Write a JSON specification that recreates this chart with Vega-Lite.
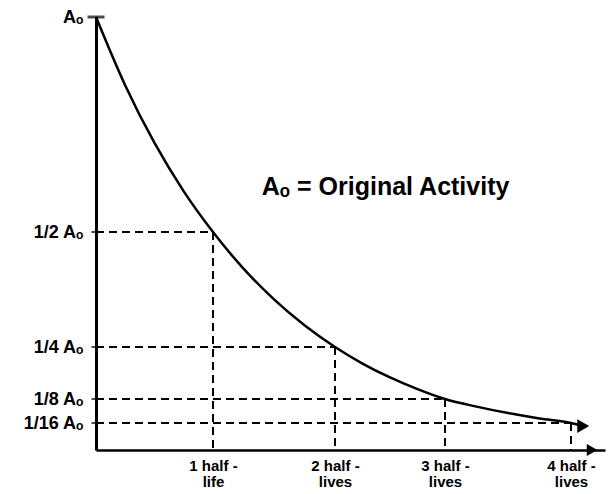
{
  "$schema": "https://vega.github.io/schema/vega-lite/v6.json",
  "width": 512,
  "height": 433,
  "autosize": {"type": "none"},
  "padding": {"left": 96, "top": 17, "right": 0, "bottom": 44},
  "background": "white",
  "config": {
    "view": {"stroke": null},
    "font": "Liberation Sans"
  },
  "datasets": {
    "curve": [
      {"t": 0, "a": 1},
      {"t": 0.25, "a": 0.8409},
      {"t": 0.5, "a": 0.7071},
      {"t": 0.75, "a": 0.5946},
      {"t": 1, "a": 0.5},
      {"t": 1.25, "a": 0.4204},
      {"t": 1.5, "a": 0.3536},
      {"t": 1.75, "a": 0.2973},
      {"t": 2, "a": 0.25},
      {"t": 2.25, "a": 0.2102},
      {"t": 2.5, "a": 0.1768},
      {"t": 2.75, "a": 0.1487},
      {"t": 3, "a": 0.125},
      {"t": 3.25, "a": 0.1051},
      {"t": 3.5, "a": 0.0884},
      {"t": 3.75, "a": 0.0743},
      {"t": 4, "a": 0.0625},
      {"t": 4.15, "a": 0.0563}
    ],
    "guides": [
      {"x": 0, "x2": 1, "y": 0.5, "y2": 0.5},
      {"x": 0, "x2": 2, "y": 0.25, "y2": 0.25},
      {"x": 0, "x2": 3, "y": 0.125, "y2": 0.125},
      {"x": 0, "x2": 4, "y": 0.0625, "y2": 0.0625},
      {"x": 1, "x2": 1, "y": 0.5, "y2": 0},
      {"x": 2, "x2": 2, "y": 0.25, "y2": 0},
      {"x": 3, "x2": 3, "y": 0.125, "y2": 0},
      {"x": 4, "x2": 4, "y": 0.0625, "y2": 0}
    ],
    "ticks": [
      {"t": 0, "a": 0.5},
      {"t": 0, "a": 0.25},
      {"t": 0, "a": 0.125},
      {"t": 0, "a": 0.0625}
    ],
    "top": [{"t": 0, "a": 1}],
    "curveArrow": [{"t": 4.18, "a": 0.0553}],
    "axisArrow": [{"t": 4.31, "a": 0}],
    "note": [{"t": 1.4, "a": 0.605, "label": "Aₒ = Original Activity"}]
  },
  "layer": [
    {
      "data": {"name": "guides"},
      "mark": {"type": "rule", "strokeDash": [8, 5], "strokeWidth": 2, "color": "black"},
      "encoding": {
        "x": {"field": "x", "type": "quantitative",
          "scale": {"domain": [0, 1, 2, 3, 4, 4.3], "range": [0, 117, 239, 349, 475, 509]},
          "axis": {
            "values": [1, 2, 3, 4],
            "ticks": false, "grid": false,
            "domainColor": "black", "domainWidth": 2.5,
            "labelPadding": 8,
            "labelFont": "Liberation Sans", "labelFontWeight": "bold", "labelFontSize": 15,
            "labelColor": "black", "labelLineHeight": 16,
            "labelExpr": "datum.value == 1 ? ['1 half -', 'life'] : [datum.value + ' half -', 'lives']",
            "title": null
          }
        },
        "x2": {"field": "x2"},
        "y": {"field": "y", "type": "quantitative",
          "scale": {"domain": [0, 0.0625, 0.125, 0.25, 0.5, 1], "range": [433, 406, 382, 330, 215, 0]},
          "axis": {
            "values": [1, 0.5, 0.25, 0.125, 0.0625],
            "ticks": false, "grid": false,
            "domainColor": "black", "domainWidth": 3,
            "labelPadding": 13,
            "labelFont": "Liberation Sans", "labelFontWeight": "bold", "labelFontSize": 18,
            "labelColor": "black",
            "labelExpr": "datum.value == 1 ? 'Aₒ' : datum.value == 0.5 ? '1/2 Aₒ' : datum.value == 0.25 ? '1/4 Aₒ' : datum.value == 0.125 ? '1/8 Aₒ' : '1/16 Aₒ'",
            "title": null
          }
        },
        "y2": {"field": "y2"}
      }
    },
    {
      "data": {"name": "curve"},
      "mark": {"type": "line", "interpolate": "monotone", "strokeWidth": 2.5, "color": "black"},
      "encoding": {
        "x": {"field": "t", "type": "quantitative"},
        "y": {"field": "a", "type": "quantitative"}
      }
    },
    {
      "data": {"name": "ticks"},
      "mark": {"type": "tick", "orient": "horizontal", "size": 9, "thickness": 2, "color": "black"},
      "encoding": {
        "x": {"field": "t", "type": "quantitative"},
        "y": {"field": "a", "type": "quantitative"}
      }
    },
    {
      "data": {"name": "top"},
      "mark": {"type": "tick", "orient": "horizontal", "size": 17, "thickness": 3, "color": "black"},
      "encoding": {
        "x": {"field": "t", "type": "quantitative"},
        "y": {"field": "a", "type": "quantitative"}
      }
    },
    {
      "data": {"name": "curveArrow"},
      "mark": {"type": "point", "shape": "triangle-right", "filled": true, "size": 190, "color": "black", "opacity": 1},
      "encoding": {
        "x": {"field": "t", "type": "quantitative"},
        "y": {"field": "a", "type": "quantitative"}
      }
    },
    {
      "data": {"name": "axisArrow"},
      "mark": {"type": "point", "shape": "triangle-right", "filled": true, "size": 150, "color": "black", "opacity": 1, "clip": false},
      "encoding": {
        "x": {"field": "t", "type": "quantitative"},
        "y": {"field": "a", "type": "quantitative"}
      }
    },
    {
      "data": {"name": "note"},
      "mark": {"type": "text", "align": "left", "baseline": "middle", "font": "Liberation Sans", "fontWeight": "bold", "fontSize": 25, "color": "black"},
      "encoding": {
        "x": {"field": "t", "type": "quantitative"},
        "y": {"field": "a", "type": "quantitative"},
        "text": {"field": "label"}
      }
    }
  ]
}
